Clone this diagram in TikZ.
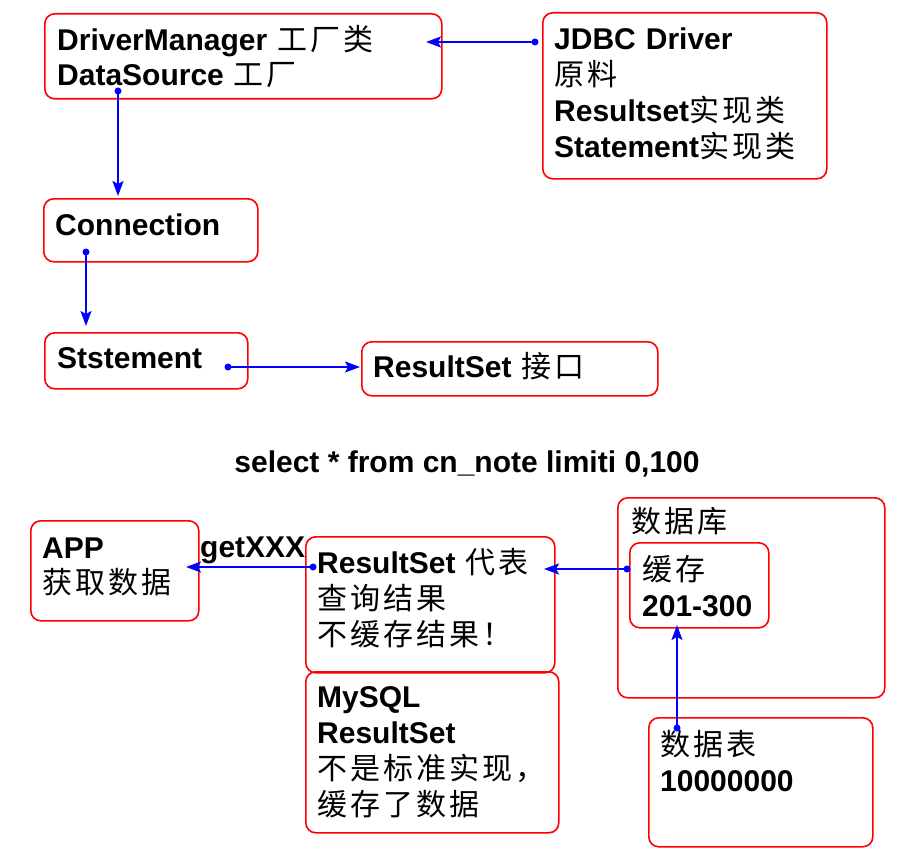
\documentclass[tikz,border=0pt]{standalone}
\usepackage{fontspec}
\setmainfont{Liberation Sans}
\newfontfamily\cjk{Noto Sans CJK SC}[LetterSpace=10]
\usetikzlibrary{arrows.meta}
\newcommand\zh[1]{{\cjk\mdseries #1}}
\definecolor{boxred}{RGB}{255,0,0}
\definecolor{lineblue}{RGB}{0,0,255}
\tikzset{
  box/.style={draw=boxred, line width=1.6pt, rounded corners=10pt, anchor=north west, inner sep=0pt},
  txt/.style={anchor=base west, inner sep=0pt, text width=320pt, align=left,
              font=\fontsize{30}{36}\selectfont\bfseries},
  title/.style={anchor=base, inner sep=0pt, font=\fontsize{30}{36}\selectfont\bfseries},
  conn/.style={draw=lineblue, line width=1.6pt, -{Stealth[length=15pt,width=11pt,inset=3pt]}},
  dot/.style={circle, fill=lineblue, inner sep=0pt, minimum size=7pt},
}
\begin{document}
\begin{tikzpicture}[x=1pt,y=-1pt]
\useasboundingbox (0,0) rectangle (906,867);
% boxes
\node[box, minimum width=397pt, minimum height=85pt] (dm) at (44,13) {};
\node[box, minimum width=284pt, minimum height=166pt] (jdbc) at (542,12) {};
\node[box, minimum width=214pt, minimum height=63pt] (con) at (43,198) {};
\node[box, minimum width=203pt, minimum height=56pt] (stm) at (44,332) {};
\node[box, minimum width=296pt, minimum height=54pt] (rsi) at (361,341) {};
\node[box, minimum width=168pt, minimum height=100pt] (app) at (30,520) {};
\node[box, minimum width=249pt, minimum height=136pt] (rsq) at (305,536) {};
\node[box, minimum width=253pt, minimum height=161pt] (my) at (305,671) {};
\node[box, minimum width=267pt, minimum height=200pt] (db) at (617,497) {};
\node[box, minimum width=139pt, minimum height=85pt] (cache) at (629,542) {};
\node[box, minimum width=224pt, minimum height=129pt] (tbl) at (648,717) {};
% texts
\node[txt] (tdm) at (57,51) {DriverManager \zh{工厂类}\\[-1pt]DataSource \zh{工厂}};
\node[txt] (tjdbc) at (554,50) {JDBC Driver\\\zh{原料}\\Resultset\zh{实现类}\\Statement\zh{实现类}};
\node[txt] (tcon) at (55,235) {Connection};
\node[txt] (tstm) at (57,368) {Ststement};
\node[txt] (trsi) at (373,377) {ResultSet \zh{接口}};
\node[title] (tsel) at (467,472) {select * from cn\_note limiti 0,100};
\node[txt] (tapp) at (42,558) {APP\\[-1pt]\zh{获取数据}};
\node[txt] (tget) at (200,557) {getXXX};
\node[txt] (trsq) at (317,573) {ResultSet \zh{代表}\\\zh{查询结果}\\\zh{不缓存结果！}};
\node[txt] (tmy) at (317,707) {MySQL\\ResultSet\\\zh{不是标准实现，}\\\zh{缓存了数据}};
\node[txt] (tdb) at (631,532) {\zh{数据库}};
\node[txt] (tcache) at (642,580) {\zh{缓存}\\201-300};
\node[txt] (ttbl) at (660,755) {\zh{数据表}\\10000000};
% connector ends
\node[dot] (d1) at (535,42) {};
\coordinate (e1) at (426,42);
\node[dot] (d2) at (118,91) {};
\coordinate (e2) at (118,196);
\node[dot] (d3) at (86,252) {};
\coordinate (e3) at (86,326);
\node[dot] (d4) at (228,367) {};
\coordinate (e4) at (360,367);
\node[dot] (d5) at (313,567) {};
\coordinate (e5) at (186,567);
\node[dot] (d6) at (627,569) {};
\coordinate (e6) at (544,569);
\node[dot] (d7) at (677,728) {};
\coordinate (e7) at (677,625);
% connectors
\draw[conn] (d1.center) -- (e1);
\draw[conn] (d2.center) -- (e2);
\draw[conn] (d3.center) -- (e3);
\draw[conn] (d4.center) -- (e4);
\draw[conn] (d5.center) -- (e5);
\draw[conn] (d6.center) -- (e6);
\draw[conn] (d7.center) -- (e7);
\end{tikzpicture}
\end{document}
